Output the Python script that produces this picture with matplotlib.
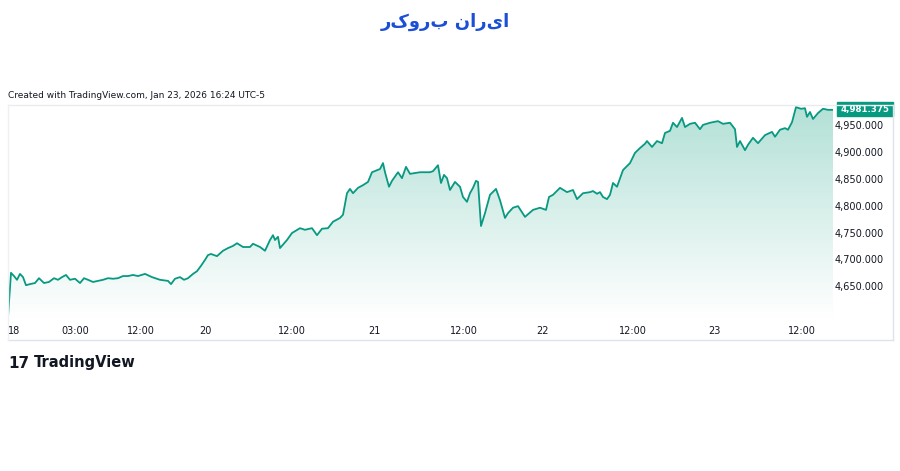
import numpy as np
import matplotlib
matplotlib.use("Agg")
import matplotlib.pyplot as plt
from matplotlib.patches import Rectangle
from matplotlib.colors import LinearSegmentedColormap

# bar position (arbitrary units along time axis) and price
bar = [8,11,14,17,20,23,26,30,35,39,44,49,54,58,62,66,70,75,80,84,88,93,98,103,108,113,118,123,128,133,138,145,152,160,168,171,175,180,184,188,193,197,201,205,208,211,217,223,228,233,237,243,250,253,260,265,270,273,275,278,280,287,292,300,305,312,317,322,328,333,340,343,347,350,353,358,363,368,372,380,383,385,389,392,398,402,406,410,420,430,433,438,441,444,447,450,455,460,463,467,470,473,476,478,481,485,490,496,500,505,508,513,518,525,533,540,546,549,553,560,567,573,577,583,590,593,597,600,603,607,610,613,617,623,630,635,640,645,647,652,657,662,665,670,673,677,682,685,690,695,700,703,710,718,723,730,735,737,740,745,748,753,758,765,772,775,780,785,788,792,796,801,805,807,810,813,818,823,828,833]
price = [4595,4677,4671,4664,4675,4669,4654,4656,4658,4667,4658,4660,4667,4664,4669,4673,4664,4666,4658,4667,4664,4660,4662,4664,4667,4666,4667,4671,4671,4673,4671,4675,4669,4664,4662,4656,4666,4669,4664,4667,4675,4680,4690,4701,4710,4712,4708,4718,4723,4727,4732,4725,4725,4731,4725,4718,4738,4747,4738,4744,4723,4738,4751,4760,4757,4760,4747,4759,4760,4772,4779,4785,4825,4833,4825,4835,4840,4846,4864,4870,4881,4864,4837,4848,4864,4853,4874,4861,4864,4864,4866,4877,4844,4859,4853,4831,4846,4837,4818,4809,4825,4835,4848,4846,4764,4788,4822,4833,4812,4779,4788,4798,4801,4781,4794,4798,4794,4818,4822,4835,4827,4831,4814,4825,4827,4829,4824,4827,4818,4814,4822,4844,4837,4868,4881,4900,4909,4917,4922,4911,4922,4918,4937,4941,4956,4948,4965,4948,4954,4956,4944,4952,4956,4959,4954,4956,4944,4911,4922,4905,4915,4928,4918,4933,4939,4930,4943,4946,4943,4957,4985,4982,4983,4967,4976,4963,4974,4982,4980,4980]
tick_pos = [12,75,141,205,292,374,464,543,633,714,802]
tick_lab = ["18","03:00","12:00","20","12:00","21","12:00","22","12:00","23","12:00"]
y_ticks = [4650,4700,4750,4800,4850,4900,4950]
last_price = 4981.375

GREEN = "#089981"
TXT = "#131722"

fig = plt.figure(figsize=(9, 4.71), dpi=100)
ax = fig.add_axes([8/900, 1-318/471, 825/900, 213/471])
ymin, ymax = 4593, 4989
ax.set_xlim(8, 833)
ax.set_ylim(ymin, ymax)

x = np.array(bar, float); y = np.array(price, float)
ax.plot(x, y, color=GREEN, lw=1.3, zorder=3, solid_joinstyle="round")
poly = ax.fill_between(x, y, ymin, color="none")
grad = np.linspace(0, 1, 256).reshape(-1, 1)
cmap = LinearSegmentedColormap.from_list("g", [(1, 1, 1, 1), (0.70, 0.88, 0.84, 1)])
im = ax.imshow(grad, cmap=cmap, aspect="auto", origin="lower",
               extent=[8, 833, ymin, ymax], zorder=2)
im.set_clip_path(poly.get_paths()[0], transform=ax.transData)

for s in ax.spines.values():
    s.set_visible(False)
ax.set_xticks([]); ax.set_yticks([])

fig.add_artist(plt.Line2D([8/900, 893/900], [1-105/471]*2, color="#e9ebef", lw=1))
fig.add_artist(plt.Line2D([8/900, 893/900], [1-340/471]*2, color="#e0e3eb", lw=1))
fig.add_artist(plt.Line2D([8/900]*2, [1-105/471, 1-340/471], color="#eef0f3", lw=1))
fig.add_artist(plt.Line2D([893/900]*2, [1-105/471, 1-340/471], color="#e0e3eb", lw=1))

for p, l in zip(tick_pos, tick_lab):
    xf = ax.transData.transform((p, 0))[0] / 900
    fig.text(xf if l != "18" else 8/900, 1-331/471, l, fontsize=7, color=TXT,
             ha="center" if l != "18" else "left", va="center")
for v in y_ticks:
    yf = ax.transData.transform((0, v))[1] / 471
    fig.text(884/900, yf, f"{v:,}.000", fontsize=7, color=TXT, ha="right", va="center")
yf = ax.transData.transform((0, last_price))[1] / 471
fig.add_artist(Rectangle((837/900, yf-7/471), 56/900, 14/471, color=GREEN, transform=fig.transFigure))
fig.text(865/900, yf, f"{last_price:,.3f}", fontsize=6.2, color="white", ha="center", va="center", weight="bold")

fig.text(8/900, 1-96/471, "Created with TradingView.com, Jan 23, 2026 16:24 UTC-5", fontsize=6.5, color=TXT, va="center")
fig.text(8/900, 1-363/471, "17", fontsize=11, weight="heavy", color=TXT, va="center")
fig.text(34/900, 1-363/471, "TradingView", fontsize=10.5, weight="bold", color=TXT, va="center")
brand = "ایران بروکر"
fig.text(445/900, 1-22/471, brand[::-1], fontsize=13, weight="bold", color="#1a4fd6", ha="center", va="center")

fig.savefig("out.png", dpi=100)
